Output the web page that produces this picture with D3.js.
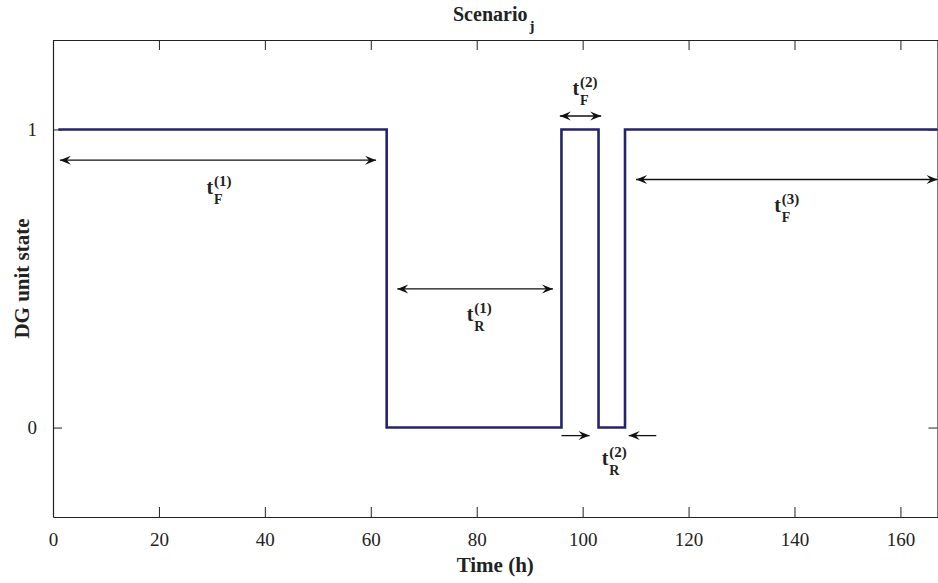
<!DOCTYPE html>
<html>
<head>
<meta charset="utf-8">
<script src="https://cdn.jsdelivr.net/npm/d3@7"></script>
<style>
  body { margin: 0; background: #fff; }
  svg text { font-family: 'Liberation Serif', 'Times New Roman', serif; fill: #222; }
</style>
</head>
<body>
<svg id="chart" width="938" height="583"></svg>
<script>
// step signal: time (h) and DG unit state
const stepTimes = [1, 63, 63, 96, 96, 103, 103, 108, 108, 167];
const stepStates = [1, 1, 0, 0, 1, 1, 0, 0, 1, 1];

const xTicks = [0, 20, 40, 60, 80, 100, 120, 140, 160];
const yTicks = [0, 1];

// annotation arrows: start, end, level, two-headed or not
const arrowX0 = [1.3, 65, 95.7, 110.1, 96.0, 113.9];
const arrowX1 = [61, 94.4, 103.5, 167, 101.3, 108.7];
const arrowY = [0.897, 0.465, 1.045, 0.832, -0.027, -0.027];
const arrowBoth = [true, true, true, true, false, false];

// labels t_sub^(sup)
const labelX = [29, 78.1, 98.1, 136.2, 103.6];
const labelY = [0.782, 0.356, 1.117, 0.722, -0.124];
const labelSub = ['F', 'R', 'F', 'F', 'R'];
const labelSup = ['(1)', '(1)', '(2)', '(3)', '(2)'];

const svg = d3.select('#chart');
const margin = { left: 53, right: 0.5, top: 40, bottom: 66 };
const width = +svg.attr('width');
const height = +svg.attr('height');

const x = d3.scaleLinear().domain([0, 167]).range([margin.left, width - margin.right]);
const y = d3.scaleLinear().domain([-0.3, 1.3]).range([height - margin.bottom, margin.top]);

const defs = svg.append('defs');
['end', 'start'].forEach((k) => {
  defs.append('marker')
    .attr('id', 'head-' + k)
    .attr('viewBox', '-12 -6 14 12')
    .attr('refX', 0)
    .attr('refY', 0)
    .attr('markerWidth', 14)
    .attr('markerHeight', 12)
    .attr('markerUnits', 'userSpaceOnUse')
    .attr('orient', k === 'end' ? 'auto' : 'auto-start-reverse')
    .append('path')
    .attr('d', 'M0,0 L-11,-4.5 L-7,0 L-11,4.5 Z')
    .attr('fill', '#111');
});

// axes
const axisColor = '#222';
const gBottom = svg.append('g')
  .attr('transform', `translate(0,${y(-0.3)})`)
  .call(d3.axisBottom(x).tickValues(xTicks).tickSizeInner(-10).tickSizeOuter(0).tickPadding(16));
const gTop = svg.append('g')
  .attr('transform', `translate(0,${y(1.3)})`)
  .call(d3.axisTop(x).tickValues(xTicks).tickSizeInner(-10).tickSizeOuter(0).tickFormat(''));
const gLeft = svg.append('g')
  .attr('transform', `translate(${x(0)},0)`)
  .call(d3.axisLeft(y).tickValues(yTicks).tickSizeInner(-9).tickSizeOuter(0).tickPadding(16).tickFormat(d3.format('d')));
const gRight = svg.append('g')
  .attr('transform', `translate(${x(167)},0)`)
  .call(d3.axisRight(y).tickValues(yTicks).tickSizeInner(-9).tickSizeOuter(0).tickFormat(''));

[gBottom, gTop, gLeft, gRight].forEach((g) => {
  g.attr('font-family', null);
  g.select('.domain').attr('stroke', axisColor).attr('stroke-width', 1.2);
  g.selectAll('.tick line').attr('stroke', axisColor).attr('stroke-width', 1);
  g.selectAll('.tick text').attr('font-size', 19).attr('fill', '#222')
    .style('font-family', "'Liberation Serif', serif");
});

// step line
const line = d3.line().x((d) => x(d[0])).y((d) => y(d[1]));
svg.append('path')
  .datum(stepTimes.map((t, i) => [t, stepStates[i]]))
  .attr('d', line)
  .attr('fill', 'none')
  .attr('stroke', '#25236b')
  .attr('stroke-width', 2.6);

// arrows
arrowX0.forEach((x0, i) => {
  svg.append('line')
    .attr('x1', x(x0)).attr('x2', x(arrowX1[i]))
    .attr('y1', y(arrowY[i])).attr('y2', y(arrowY[i]))
    .attr('stroke', '#111').attr('stroke-width', 1.3)
    .attr('marker-end', 'url(#head-end)')
    .attr('marker-start', arrowBoth[i] ? 'url(#head-start)' : null);
});

// labels
labelX.forEach((lx, i) => {
  const g = svg.append('g').attr('transform', `translate(${x(lx)},${y(labelY[i])})`);
  g.append('text').attr('font-size', 20).attr('font-weight', 'bold').text('t');
  g.append('text').attr('x', 7.5).attr('y', -8).attr('font-size', 15).attr('font-weight', 'bold').text(labelSup[i]);
  g.append('text').attr('x', 7.5).attr('y', 10).attr('font-size', 14).attr('font-weight', 'bold').text(labelSub[i]);
});

// titles
const title = svg.append('text')
  .attr('x', 453).attr('y', 21)
  .attr('font-size', 20).attr('font-weight', 'bold');
title.append('tspan').text('Scenario');
title.append('tspan').attr('dx', 2).attr('dy', 10).attr('font-size', 15).text('j');

svg.append('text')
  .attr('x', (x(0) + x(167)) / 2).attr('y', 572)
  .attr('text-anchor', 'middle')
  .attr('font-size', 21).attr('font-weight', 'bold')
  .text('Time (h)');

svg.append('text')
  .attr('transform', `translate(29,${(y(-0.3) + y(1.3)) / 2}) rotate(-90)`)
  .attr('text-anchor', 'middle')
  .attr('font-size', 21).attr('font-weight', 'bold')
  .text('DG unit state');
</script>
</body>
</html>
